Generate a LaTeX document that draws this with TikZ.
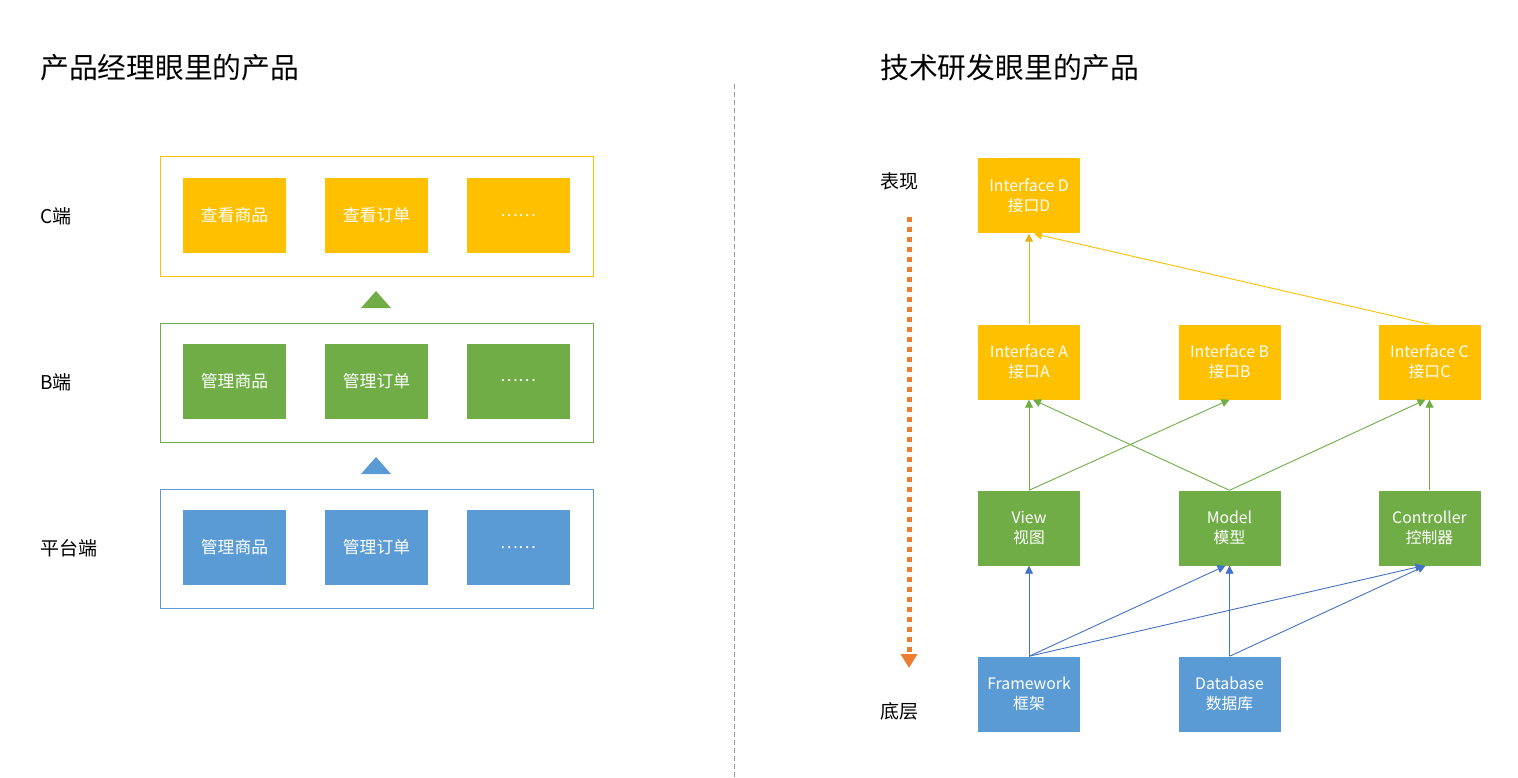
\documentclass[tikz,border=0pt]{standalone}
\usepackage{fontspec}
\setmainfont{Noto Sans CJK SC}
\usetikzlibrary{arrows.meta,calc}
\definecolor{cy}{HTML}{FFC000}
\definecolor{cg}{HTML}{70AD47}
\definecolor{cb}{HTML}{5B9BD5}
\definecolor{cbl}{HTML}{4472C4}
\definecolor{co}{HTML}{ED7D31}
\begin{document}
\begin{tikzpicture}[x=1pt,y=-1pt,
  titletxt/.style={font=\fontsize{28.8}{32}\selectfont, anchor=west, inner sep=0},
  sidetxt/.style={font=\fontsize{19}{22}\selectfont, anchor=west, inner sep=0},
  outerbox/.style={draw=#1, line width=1pt, minimum width=433pt, minimum height=119pt, inner sep=0},
  inbox/.style={fill=#1, text=white, minimum width=103pt, minimum height=75pt, inner sep=0, font=\fontsize{16.8}{19}\selectfont},
  rbox/.style={fill=#1, text=white, minimum width=102pt, minimum height=75pt, inner sep=0, align=center, font=\fontsize{15.8}{20}\selectfont},
  conn/.style={draw=#1, line width=0.9pt, -{Triangle[length=8pt,width=8pt]}}
]
\useasboundingbox (0,0) rectangle (1518,778);
% titles
\node[titletxt] (t1) at (40,68) {产品经理眼里的产品};
\node[titletxt] (t2) at (880,68) {技术研发眼里的产品};
% divider
\coordinate (dv1) at (734,84);
\coordinate (dv2) at (734,778);
\draw[gray!80, line width=1pt, dash pattern=on 5pt off 3pt] (dv1) -- (dv2);
% left side
\node[outerbox=cy] (cbox) at (376.5,216.5) {};
\node[outerbox=cg] (bbox) at (376.5,382.5) {};
\node[outerbox=cb] (pbox) at (376.5,548.5) {};
\node[sidetxt] (lc) at (40,216) {C端};
\node[sidetxt] (lb) at (40,382) {B端};
\node[sidetxt] (lp) at (40,548) {平台端};
\node[inbox=cy] (c1) at (234.5,215.5) {查看商品};
\node[inbox=cy] (c2) at (376.5,215.5) {查看订单};
\node[inbox=cy] (c3) at (518,215.5) {……};
\node[inbox=cg] (b1) at (234.5,381) {管理商品};
\node[inbox=cg] (b2) at (376.5,381) {管理订单};
\node[inbox=cg] (b3) at (518,381) {……};
\node[inbox=cb] (p1) at (234.5,547.5) {管理商品};
\node[inbox=cb] (p2) at (376.5,547.5) {管理订单};
\node[inbox=cb] (p3) at (518,547.5) {……};
\fill[cg] (361,308) -- (391,308) -- (376,291) -- cycle;
\fill[cb] (361,474) -- (391,474) -- (376,457) -- cycle;
% right side
\node[sidetxt] (lt) at (880,181) {表现};
\node[sidetxt] (lbot) at (880,711) {底层};
\coordinate (oa) at (909,217);
\coordinate (ob) at (909,668);
\draw[co, line width=5pt, dash pattern=on 5pt off 5pt, -{Triangle[length=14pt,width=16pt]}] (oa) -- (ob);
\node[rbox=cy] (d) at (1029,196) {Interface D\\接口D};
\node[rbox=cy] (a) at (1029,362) {Interface A\\接口A};
\node[rbox=cy] (b) at (1229.5,362) {Interface B\\接口B};
\node[rbox=cy] (c) at (1429.5,362) {Interface C\\接口C};
\node[rbox=cg] (v) at (1029,528) {View\\视图};
\node[rbox=cg] (m) at (1229.5,528) {Model\\模型};
\node[rbox=cg] (ct) at (1429.5,528) {Controller\\控制器};
\node[rbox=cb] (fw) at (1029,694) {Framework\\框架};
\node[rbox=cb] (db) at (1229.5,694) {Database\\数据库};
% yellow
\draw[conn=cy!80!gray] (a.north) -- (d.south);
\draw[conn=cy] (c.north) -- ([xshift=5pt]d.south);
% green
\draw[conn=cg] (v.north) -- (a.south);
\draw[conn=cg] (v.north) -- (b.south);
\draw[conn=cg] (m.north) -- ([xshift=4pt]a.south);
\draw[conn=cg] (m.north) -- ([xshift=-4pt]c.south);
\draw[conn=cg] (ct.north) -- (c.south);
% blue
\draw[conn=cbl] (fw.north) -- (v.south);
\draw[conn=cbl] (fw.north) -- ([xshift=-4pt]m.south);
\draw[conn=cbl] (fw.north) -- ([xshift=-6pt]ct.south);
\draw[conn=cbl] (db.north) -- (m.south);
\draw[conn=cbl] (db.north) -- ([xshift=-4pt]ct.south);
\end{tikzpicture}
\end{document}
